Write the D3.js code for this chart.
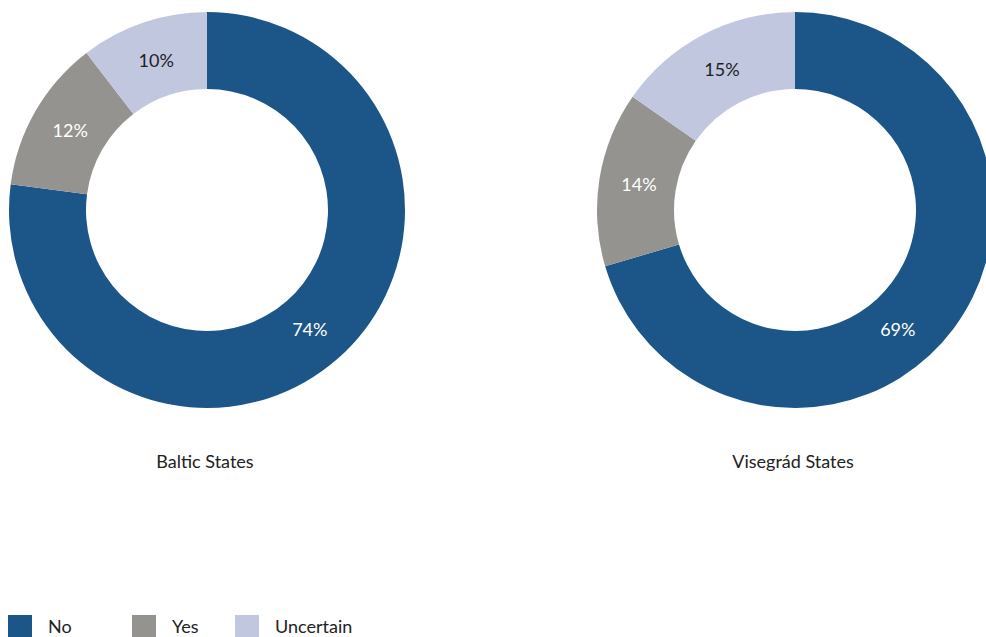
<!DOCTYPE html>
<html>
<head>
<meta charset="utf-8">
<script src="https://cdn.jsdelivr.net/npm/d3@7"></script>
<style>
  html, body { margin: 0; padding: 0; background: #fff; }
  svg { display: block; font-family: Lato, "Open Sans", sans-serif; font-weight: 400; }
</style>
</head>
<body>
<svg id="chart" width="986" height="637"></svg>
<script>
// Survey answers per region, in percent
const categories = ["No", "Yes", "Uncertain"];
const regions = ["Baltic States", "Visegrád States"];
const balticValues = [74, 12, 10];
const visegradValues = [69, 14, 15];
const colors = ["#1c5587", "#95938f", "#c2c7e0"];
const labelColors = ["#ffffff", "#ffffff", "#1e1e1e"];

const svg = d3.select("#chart");

const color = d3.scaleOrdinal().domain(categories).range(colors);
const labelColor = d3.scaleOrdinal().domain(categories).range(labelColors);

const outerR = 198, innerR = 121, labelR = 158;
const arc = d3.arc().innerRadius(innerR).outerRadius(outerR);
const pie = d3.pie().sort(null).value(d => d.value);

// The dominant slice keeps its label in the lower-right part of the ring;
// smaller slices are labelled at their mid-angle.
const mainLabelAngle = 139.4 * Math.PI / 180;
function labelPos(d) {
  const a = d.data.key === categories[0] ? mainLabelAngle : (d.startAngle + d.endAngle) / 2;
  return [labelR * Math.sin(a), -labelR * Math.cos(a)];
}

const centers = d3.scalePoint().domain(regions).range([207, 795]);
const cy = 210;

const datasets = [balticValues, visegradValues];

regions.forEach((region, i) => {
  const rows = categories.map((c, j) => ({ key: c, value: datasets[i][j] }));
  const g = svg.append("g").attr("transform", `translate(${centers(region)},${cy})`);

  const arcs = pie(rows);
  g.selectAll("path")
    .data(arcs)
    .join("path")
    .attr("d", arc)
    .attr("fill", d => color(d.data.key));

  g.selectAll("text.val")
    .data(arcs)
    .join("text")
    .attr("class", "val")
    .attr("transform", d => `translate(${labelPos(d)})`)
    .attr("text-anchor", "middle")
    .attr("dy", "0.35em")
    .attr("font-size", 18)
    .attr("fill", d => labelColor(d.data.key))
    .text(d => d.data.value + "%");

  svg.append("text")
    .attr("x", centers(region) - 2)
    .attr("y", 468)
    .attr("text-anchor", "middle")
    .attr("font-size", 18)
    .attr("fill", "#222")
    .text(region);
});

// Legend
const legendX = d3.scaleOrdinal().domain(categories).range([8, 132, 235]);
const legend = svg.append("g");
categories.forEach(c => {
  legend.append("rect")
    .attr("x", legendX(c))
    .attr("y", 615)
    .attr("width", 24)
    .attr("height", 24)
    .attr("fill", color(c));
  legend.append("text")
    .attr("x", legendX(c) + 40)
    .attr("y", 633)
    .attr("font-size", 18)
    .attr("fill", "#222")
    .text(c);
});
</script>
</body>
</html>
